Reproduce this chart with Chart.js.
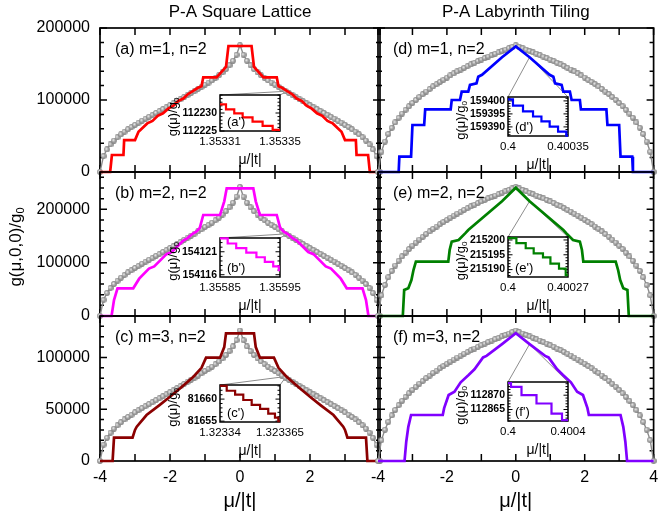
<!DOCTYPE html>
<html>
<head>
<meta charset="utf-8">
<title>g(μ,0,0)/g0</title>
<script src="https://cdn.jsdelivr.net/npm/chart.js@4.4.0/dist/chart.umd.min.js"></script>
<style>
  html, body { margin: 0; padding: 0; background: #fff; }
  #page { position: relative; width: 659px; height: 519px; overflow: hidden; }
  #page canvas { position: absolute; left: 0; top: 0; }
</style>
</head>
<body>
<div id="page"></div>
<script>
// ---- data -------------------------------------------------------------

const muGrid = [-4, -3.9, -3.8, -3.7, -3.6, -3.5, -3.4, -3.3, -3.2, -3.1, -3, -2.9, -2.8, -2.7, -2.6, -2.5, -2.4, -2.3, -2.2, -2.1,
  -2, -1.9, -1.8, -1.7, -1.6, -1.5, -1.4, -1.3, -1.2, -1.1, -1, -0.9, -0.8, -0.7, -0.6, -0.5, -0.4, -0.3, -0.2, -0.1,
  0, 0.1, 0.2, 0.3, 0.4, 0.5, 0.6, 0.7, 0.8, 0.9, 1, 1.1, 1.2, 1.3, 1.4, 1.5, 1.6, 1.7, 1.8, 1.9,
  2, 2.1, 2.2, 2.3, 2.4, 2.5, 2.6, 2.7, 2.8, 2.9, 3, 3.1, 3.2, 3.3, 3.4, 3.5, 3.6, 3.7, 3.8, 3.9, 4];

// grey bead curves (bulk reference), one per panel, on muGrid
const grayA = [0, 22000, 31300, 38200, 43600, 48200, 52300, 56000, 59300, 62500, 65500, 68500, 71300, 74100, 76700, 79400, 82000, 84700, 87300, 89900,
  92600, 95400, 98200, 101000, 103800, 106700, 109500, 112300, 115300, 118300, 121400, 124300, 127200, 130600, 134300, 138300, 142900, 148200, 154500, 162800,
  176000, 162800, 154500, 148200, 142900, 138300, 134300, 130600, 127200, 124300, 121400, 118300, 115300, 112300, 109500, 106700, 103800, 101000, 98200, 95400,
  92600, 89900, 87300, 84700, 82000, 79400, 76700, 74100, 71300, 68500, 65500, 62500, 59300, 56000, 52300, 48200, 43600, 38200, 31300, 22000, 0];
const grayB = [0, 30300, 43100, 52500, 60000, 66300, 71900, 77000, 81600, 85900, 90000, 94100, 98000, 101900, 105500, 109100, 112800, 116400, 120000, 123700,
  127300, 131200, 135000, 138900, 142800, 146700, 150500, 154400, 158500, 162600, 167000, 170900, 175000, 179600, 184600, 190200, 196500, 203800, 212500, 223900,
  242000, 223900, 212500, 203800, 196500, 190200, 184600, 179600, 175000, 170900, 167000, 162600, 158500, 154400, 150500, 146700, 142800, 138900, 135000, 131200,
  127300, 123700, 120000, 116400, 112800, 109100, 105500, 101900, 98000, 94100, 90000, 85900, 81600, 77000, 71900, 66300, 60000, 52500, 43100, 30300, 0];
const grayC = [0, 15800, 22400, 27300, 31200, 34500, 37400, 40100, 42500, 44700, 46900, 49000, 51000, 53000, 54900, 56800, 58700, 60600, 62500, 64400,
  66300, 68300, 70300, 72300, 74300, 76400, 78400, 80400, 82500, 84700, 86900, 89000, 91100, 93500, 96100, 99000, 102300, 106100, 110600, 116600,
  126000, 116600, 110600, 106100, 102300, 99000, 96100, 93500, 91100, 89000, 86900, 84700, 82500, 80400, 78400, 76400, 74300, 72300, 70300, 68300,
  66300, 64400, 62500, 60600, 58700, 56800, 54900, 53000, 51000, 49000, 46900, 44700, 42500, 40100, 37400, 34500, 31200, 27300, 22400, 15800, 0];
const grayD = [0, 28200, 42200, 52800, 61400, 68800, 75300, 81100, 86400, 91300, 95900, 100100, 104200, 108100, 111800, 115300, 118800, 122000, 125100, 128100,
  131100, 134100, 136900, 139600, 142200, 144700, 147100, 149400, 151700, 154000, 156100, 158200, 160300, 162300, 164200, 166100, 168100, 170000, 172000, 173900,
  176000, 173900, 172000, 170000, 168100, 166100, 164200, 162300, 160300, 158200, 156100, 154000, 151700, 149400, 147100, 144700, 142200, 139600, 136900, 134100,
  131100, 128100, 125100, 122000, 118800, 115300, 111800, 108100, 104200, 100100, 95900, 91300, 86400, 81100, 75300, 68800, 61400, 52800, 42200, 28200, 0];
const grayE = [0, 38700, 58100, 72600, 84500, 94600, 103600, 111600, 118800, 125600, 131900, 137700, 143300, 148600, 153700, 158500, 163400, 167700, 172100, 176200,
  180300, 184400, 188300, 191900, 195500, 198900, 202300, 205500, 208600, 211800, 214700, 217600, 220500, 223100, 225800, 228400, 231100, 233800, 236400, 239100,
  242000, 239100, 236400, 233800, 231100, 228400, 225800, 223100, 220500, 217600, 214700, 211800, 208600, 205500, 202300, 198900, 195500, 191900, 188300, 184400,
  180300, 176200, 172100, 167700, 163400, 158500, 153700, 148600, 143300, 137700, 131900, 125600, 118800, 111600, 103600, 94600, 84500, 72600, 58100, 38700, 0];
const grayF = [0, 20200, 30200, 37800, 44000, 49300, 53900, 58100, 61900, 65400, 68700, 71700, 74600, 77400, 80000, 82500, 85100, 87300, 89600, 91700,
  93900, 96000, 98000, 99900, 101800, 103600, 105300, 107000, 108600, 110300, 111800, 113300, 114800, 116200, 117600, 118900, 120300, 121700, 123100, 124500,
  126000, 124500, 123100, 121700, 120300, 118900, 117600, 116200, 114800, 113300, 111800, 110300, 108600, 107000, 105300, 103600, 101800, 99900, 98000, 96000,
  93900, 91700, 89600, 87300, 85100, 82500, 80000, 77400, 74600, 71700, 68700, 65400, 61900, 58100, 53900, 49300, 44000, 37800, 30200, 20200, 0];

// staircase curves (vertices) for the six panels
const stairAx = [-4, -3.71, -3.66, -3.33, -3.31, -3.0, -2.9, -2.65, -2.5, -2.35, -2.2, -2.05, -1.9, -1.77, -1.62, -1.5, -1.35, -1.2, -1.1, -1.05, -0.67, -0.4, -0.33,
  0.33, 0.4, 0.67, 1.05, 1.1, 1.2, 1.35, 1.5, 1.62, 1.77, 1.9, 2.05, 2.2, 2.35, 2.5, 2.65, 2.9, 3.0, 3.31, 3.33, 3.66, 3.71, 4];
const stairAy = [0, 0, 23600, 23600, 44400, 44400, 56000, 67500, 71000, 78000, 81500, 88000, 92000, 98500, 102000, 107700, 112230, 117000, 119000, 131500, 131500, 146000, 175000,
  175000, 146000, 131500, 131500, 119000, 117000, 112230, 107700, 102000, 98500, 92000, 88000, 81500, 78000, 71000, 67500, 56000, 44400, 44400, 23600, 23600, 0, 0];

const stairBx = [-4, -3.67, -3.6, -3.5, -3.05, -2.88, -2.6, -2.45, -2.1, -1.95, -1.62, -1.5, -1.356, -1.25, -1.15, -1.05, -0.57, -0.45, -0.38,
  0.38, 0.45, 0.57, 1.05, 1.15, 1.25, 1.356, 1.5, 1.62, 1.95, 2.1, 2.45, 2.6, 2.88, 3.05, 3.5, 3.6, 3.67, 4];
const stairBy = [0, 0, 30000, 51900, 51900, 70000, 89000, 93000, 116000, 120000, 141500, 146000, 154120, 158000, 165000, 189400, 189400, 215000, 239400,
  239400, 215000, 189400, 189400, 165000, 158000, 154120, 146000, 141500, 120000, 116000, 93000, 89000, 70000, 51900, 51900, 30000, 0, 0];

const stairCx = [-4, -3.64, -3.6, -3.07, -3.0, -2.95, -2.67, -2.3, -2.0, -1.7, -1.323, -1.1, -0.97, -0.57, -0.45, -0.4,
  0.4, 0.45, 0.57, 0.97, 1.1, 1.323, 1.7, 2.0, 2.3, 2.67, 2.95, 3.0, 3.07, 3.6, 3.64, 4];
const stairCy = [0, 0, 22500, 22500, 30000, 33100, 44400, 54000, 62100, 70500, 81660, 90000, 99800, 99800, 110000, 123300,
  123300, 110000, 99800, 99800, 90000, 81660, 70500, 62100, 54000, 44400, 33100, 30000, 22500, 22500, 0, 0];

const stairDx = [-4, -3.4, -3.38, -3.04, -3.0, -2.66, -2.63, -1.89, -1.86, -1.62, -1.57, -1.38, -1.33, -1.14, -1.09, -0.98, -0.4,
  0, 0.4, 0.98, 1.09, 1.14, 1.33, 1.38, 1.57, 1.62, 1.86, 1.89, 2.63, 2.66, 3.0, 3.04, 3.38, 3.4, 4];
const stairDy = [0, 0, 21300, 21300, 65300, 65300, 87000, 87000, 100000, 100000, 111500, 111500, 121000, 123000, 132400, 135000, 159400,
  174500, 159400, 135000, 132400, 123000, 121000, 111500, 111500, 100000, 100000, 87000, 87000, 65300, 65300, 21300, 21300, 0, 0];

const stairEx = [-4, -3.28, -3.24, -3.12, -3.03, -2.97, -2.9, -1.96, -1.92, -1.86, -1.66, -1.47, -1.38, -0.4,
  0, 0.4, 1.38, 1.47, 1.66, 1.86, 1.92, 1.96, 2.9, 2.97, 3.03, 3.12, 3.24, 3.28, 4];
const stairEy = [0, 0, 48750, 52000, 67500, 86250, 101800, 101800, 123750, 139400, 142500, 155000, 161250, 215200,
  240600, 215200, 161250, 155000, 142500, 139400, 123750, 101800, 101800, 86250, 67500, 52000, 48750, 0, 0];

const stairFx = [-4, -3.23, -3.18, -3.12, -3.04, -2.12, -2.08, -1.95, -1.78, -1.6, -1.37, -1.2, -0.95, -0.85, -0.4,
  0, 0.4, 0.85, 0.95, 1.2, 1.37, 1.6, 1.78, 1.95, 2.08, 2.12, 3.04, 3.12, 3.18, 3.23, 4];
const stairFy = [0, 0, 18600, 33000, 44400, 44400, 51000, 63700, 66900, 76000, 83000, 88500, 100000, 101500, 112870,
  123300, 112870, 101500, 100000, 88500, 83000, 76000, 66900, 63700, 51000, 44400, 44400, 33000, 18600, 0, 0];

// magnified pieces shown in the insets
const zoomAx = [1.35331, 1.353314, 1.3533195, 1.3533251, 1.3533317, 1.3533384, 1.3533451, 1.35335];
const zoomAy = [112232.4, 112231.0, 112229.9, 112228.8, 112227.6, 112226.4, 112225.3, 112225.3];
const zoomBx = [1.35585, 1.3558628, 1.355877, 1.3558938, 1.3559107, 1.3559247, 1.3559387, 1.355948, 1.35595];
const zoomBy = [154123.9, 154122.8, 154121.8, 154120.8, 154119.8, 154118.8, 154117.8, 154117.0, 154117.0];
const zoomCx = [1.32334, 1.3233428, 1.3233463, 1.3233497, 1.3233532, 1.3233567, 1.3233601, 1.3233629, 1.3233643, 1.323365];
const zoomCy = [81663.0, 81661.9, 81661.0, 81659.8, 81658.7, 81657.8, 81656.7, 81655.8, 81655.0, 81655.0];
const zoomDx = [0.4, 0.400029, 0.4000875, 0.400146, 0.400195, 0.400243, 0.400292, 0.40034, 0.40035];
const zoomDy = [159400.6, 159398.2, 159396.0, 159394.0, 159392.1, 159390.1, 159388.2, 159386.6, 159386.6];
const zoomEx = [0.4, 0.4000378, 0.4000797, 0.4001156, 0.4001574, 0.4001909, 0.4002295, 0.4002597, 0.40027];
const zoomEy = [215200.6, 215198.9, 215197.2, 215195.5, 215194.1, 215192.0, 215190.3, 215188.1, 215188.1];
const zoomFx = [0.4, 0.40002, 0.40009, 0.40019, 0.40029, 0.40036, 0.4004];
const zoomFy = [112874.2, 112872.9, 112870.0, 112867.1, 112863.6, 112861.3, 112861.3];

// tick values
const muTicks = [-4, -3, -2, -1, 0, 1, 2, 3, 4];
const rowYTicks = [[0, 100000, 200000], [0, 100000, 200000], [0, 50000, 100000]];
const zoomXTicks = [[1.35331, 1.35335], [1.35585, 1.35595], [1.32334, 1.323365], [0.4, 0.40035], [0.4, 0.40027], [0.4, 0.4004]];
const zoomYTicks = [[112225, 112230], [154116, 154121], [81655, 81660], [159390, 159395, 159400], [215190, 215195, 215200], [112865, 112870]];

const panelTags = ['(a) m=1, n=2', '(b) m=2, n=2', '(c) m=3, n=2', '(d) m=1, n=2', '(e) m=2, n=2', '(f) m=3, n=2'];
const insetTags = ["(a')", "(b')", "(c')", "(d')", "(e')", "(f')"];
const columnTitles = ['P-A Square Lattice', 'P-A Labyrinth Tiling'];
const xTitle = 'μ/|t|';

// ---- layout -------------------------------------------------------------

const W = 659, H = 519;
const FONT = '"Liberation Sans", Arial, Helvetica, sans-serif';
const cols = [{ left: 100, right: 380 }, { left: 378, right: 658 }];
const rows = [
  { top: 28, bottom: 172, max: 200000, minor: 20000 },
  { top: 172, bottom: 316, max: 270000, minor: 20000 },
  { top: 316, bottom: 461, max: 140000, minor: 10000 }
];
const insetRows = [{ top: 95, bottom: 131 }, { top: 238, bottom: 277 }, { top: 385, bottom: 422 }];
const insetRowsR = [{ top: 97, bottom: 136 }, { top: 237, bottom: 277 }, { top: 382, bottom: 421 }];
const insetRange = [[112225, 112235], [154115.5, 154124], [81654.8, 81663.2], [159386.5, 159401.5], [215187.5, 215201], [112861, 112874.6]];

const page = document.getElementById('page');

function addCanvas() {
  const c = document.createElement('canvas');
  c.width = W; c.height = H;
  c.style.width = W + 'px'; c.style.height = H + 'px';
  page.appendChild(c);
  return c;
}

function padFor(b) {
  return { left: b.left, top: b.top, right: W - b.right, bottom: H - b.bottom };
}

function points(xs, ys) {
  return xs.map((v, i) => ({ x: v, y: ys[i] }));
}

function fixedTicks(values) {
  return s => { s.ticks = values.map(v => ({ value: v })); };
}

function drawSubText(ctx, base, sub, size, cx, cy) {
  const subSize = Math.round(size * 0.65);
  ctx.font = size + 'px ' + FONT;
  const w1 = ctx.measureText(base).width;
  ctx.font = subSize + 'px ' + FONT;
  const w2 = ctx.measureText(sub).width;
  const x0 = cx - (w1 + w2) / 2;
  ctx.textAlign = 'left';
  ctx.textBaseline = 'middle';
  ctx.font = size + 'px ' + FONT;
  ctx.fillText(base, x0, cy);
  ctx.font = subSize + 'px ' + FONT;
  ctx.fillText(sub, x0 + w1, cy + size * 0.3);
}

// small shaded sphere used as the bead marker
const bead = document.createElement('canvas');
bead.width = bead.height = 6;
(function () {
  const b = bead.getContext('2d');
  const g = b.createRadialGradient(2.2, 2.2, 0.2, 3, 3, 3.2);
  g.addColorStop(0, '#efefef');
  g.addColorStop(0.45, '#a9a9a9');
  g.addColorStop(1, '#777');
  b.fillStyle = g;
  b.beginPath();
  b.arc(3, 3, 2.9, 0, Math.PI * 2);
  b.fill();
})();

// ---- plugins ------------------------------------------------------------

const panelDecor = {
  id: 'panelDecor',
  beforeDatasetsDraw(chart, args, o) {
    const { ctx, chartArea: a, scales: { x, y } } = chart;
    ctx.save();
    if (o.inset) {
      const b = o.inset.box;
      const fx = x.getPixelForValue(o.inset.xs[0]);
      const fy = y.getPixelForValue(o.inset.ys[0]);
      ctx.strokeStyle = '#8c8c8c';
      ctx.lineWidth = 1;
      ctx.beginPath();
      ctx.moveTo(b.left, b.top);
      ctx.lineTo(fx, fy);
      ctx.lineTo(b.right, b.top);
      ctx.stroke();
    }
    ctx.strokeStyle = '#000';
    ctx.lineWidth = 1.5;
    ctx.beginPath();
    x.ticks.forEach(t => {
      const px = x.getPixelForValue(t.value);
      ctx.moveTo(px, a.bottom); ctx.lineTo(px, a.bottom - 7);
      ctx.moveTo(px, a.top); ctx.lineTo(px, a.top + 7);
    });
    const majors = y.ticks.map(t => t.value);
    for (let v = y.min; v <= y.max; v += o.minor) {
      const py = y.getPixelForValue(v);
      const len = majors.includes(v) ? 7 : 4;
      ctx.moveTo(a.left, py); ctx.lineTo(a.left + len, py);
      ctx.moveTo(a.right, py); ctx.lineTo(a.right - len, py);
    }
    ctx.stroke();
    ctx.lineWidth = 1.7;
    ctx.strokeRect(a.left, a.top, a.right - a.left, a.bottom - a.top);
    ctx.restore();
  },
  afterDraw(chart, args, o) {
    const { ctx, chartArea: a, scales: { x, y } } = chart;
    ctx.save();
    ctx.fillStyle = '#000';
    ctx.font = '16px ' + FONT;
    ctx.textAlign = 'left';
    ctx.textBaseline = 'middle';
    ctx.fillText(o.tag, a.left + 15, a.top + 22);
    if (o.yLabels) {
      ctx.textAlign = 'right';
      y.ticks.forEach(t => ctx.fillText(String(t.value), a.left - 10, y.getPixelForValue(t.value)));
    }
    if (o.xLabels) {
      ctx.textAlign = 'center';
      x.ticks.forEach(t => {
        if (t.value % 2 === 0 && !o.skipX.includes(t.value)) {
          ctx.fillText(String(t.value), x.getPixelForValue(t.value), a.bottom + 17);
        }
      });
      ctx.font = '20px ' + FONT;
      ctx.fillText(xTitle, (a.left + a.right) / 2, a.bottom + 40);
    }
    if (o.title) {
      ctx.textAlign = 'center';
      ctx.font = '17px ' + FONT;
      ctx.fillText(o.title, (a.left + a.right) / 2, 12);
    }
    if (o.yTitle) {
      ctx.translate(16, 247);
      ctx.rotate(-Math.PI / 2);
      drawSubText(ctx, 'g(μ,0,0)/g', '0', 17, 0, 0);
    }
    ctx.restore();
  }
};

const insetDecor = {
  id: 'insetDecor',
  beforeDraw(chart) {
    const { ctx, chartArea: a } = chart;
    ctx.save();
    ctx.fillStyle = '#fff';
    ctx.fillRect(a.left, a.top, a.right - a.left, a.bottom - a.top);
    ctx.restore();
  },
  beforeDatasetsDraw(chart) {
    const { ctx, chartArea: a, scales: { y } } = chart;
    ctx.save();
    ctx.strokeStyle = '#000';
    ctx.lineWidth = 1;
    ctx.beginPath();
    const majors = y.ticks.map(t => t.value);
    for (let v = Math.ceil(y.min); v <= y.max; v += 1) {
      const py = y.getPixelForValue(v);
      const len = majors.includes(v) ? 4.5 : 2.5;
      ctx.moveTo(a.left, py); ctx.lineTo(a.left + len, py);
      ctx.moveTo(a.right, py); ctx.lineTo(a.right - len, py);
    }
    ctx.stroke();
    ctx.lineWidth = 1.5;
    ctx.strokeRect(a.left, a.top, a.right - a.left, a.bottom - a.top);
    ctx.restore();
  },
  afterDraw(chart, args, o) {
    const { ctx, chartArea: a, scales: { x, y } } = chart;
    ctx.save();
    ctx.fillStyle = '#000';
    ctx.textBaseline = 'middle';
    ctx.textAlign = 'right';
    ctx.font = 'bold 10.5px ' + FONT;
    y.ticks.forEach(t => ctx.fillText(String(t.value), a.left - 3, y.getPixelForValue(t.value)));
    ctx.textAlign = 'center';
    ctx.font = '11.5px ' + FONT;
    x.ticks.forEach(t => ctx.fillText(String(t.value), x.getPixelForValue(t.value), a.bottom + 11));
    ctx.font = '14px ' + FONT;
    ctx.fillText(xTitle, (a.left + a.right) / 2, a.bottom + 29);
    ctx.textAlign = 'left';
    ctx.font = '13px ' + FONT;
    ctx.fillText(o.tag, a.left + 7, a.bottom - 9);
    ctx.translate(a.left - 47, (a.top + a.bottom) / 2 + 4);
    ctx.rotate(-Math.PI / 2);
    drawSubText(ctx, 'g(μ)/g', '0', 13, 0, 0);
    ctx.restore();
  }
};

// ---- build --------------------------------------------------------------

const gray = [grayA, grayB, grayC, grayD, grayE, grayF];
const stairs = [[stairAx, stairAy], [stairBx, stairBy], [stairCx, stairCy], [stairDx, stairDy], [stairEx, stairEy], [stairFx, stairFy]];
const zooms = [[zoomAx, zoomAy], [zoomBx, zoomBy], [zoomCx, zoomCy], [zoomDx, zoomDy], [zoomEx, zoomEy], [zoomFx, zoomFy]];
const colors = ['#ff0000', '#ff00ff', '#8b0000', '#0000ff', '#008000', '#8000ff'];

const insetBoxes = [];
for (let p = 0; p < 6; p++) {
  const c = p < 3 ? 0 : 1, r = p % 3;
  const rr = c === 0 ? insetRows[r] : insetRowsR[r];
  insetBoxes.push(c === 0 ? { left: 220, right: 280, top: rr.top, bottom: rr.bottom }
                          : { left: 508, right: 568, top: rr.top, bottom: rr.bottom });
}

function mainPanel(p) {
  const c = p < 3 ? 0 : 1, r = p % 3;
  const box = { left: cols[c].left, right: cols[c].right, top: rows[r].top, bottom: rows[r].bottom };
  return new Chart(addCanvas(), {
    type: 'line',
    data: {
      datasets: [
        {
          data: points(stairs[p][0], stairs[p][1]),
          borderColor: colors[p], borderWidth: 2.7, pointRadius: 0,
          tension: 0, clip: false, borderJoinStyle: 'miter'
        },
        {
          data: points(muGrid, gray[p]),
          borderColor: '#8c8c8c', borderWidth: 1.4,
          pointStyle: bead, pointRadius: 3, tension: 0, clip: false
        }
      ]
    },
    options: {
      responsive: false, animation: false, devicePixelRatio: 1, events: [],
      layout: { padding: padFor(box) },
      plugins: {
        legend: { display: false }, tooltip: { enabled: false },
        panelDecor: {
          tag: panelTags[p], minor: rows[r].minor,
          yLabels: c === 0, xLabels: r === 2, skipX: c === 0 ? [4] : [],
          title: r === 0 ? columnTitles[c] : null, yTitle: p === 0,
          inset: { box: insetBoxes[p], xs: zooms[p][0], ys: zooms[p][1] }
        }
      },
      scales: {
        x: { type: 'linear', min: -4, max: 4, display: false, afterBuildTicks: fixedTicks(muTicks) },
        y: { type: 'linear', min: 0, max: rows[r].max, display: false, afterBuildTicks: fixedTicks(rowYTicks[r]) }
      }
    },
    plugins: [panelDecor]
  });
}

function insetPanel(p) {
  const xt = zoomXTicks[p];
  return new Chart(addCanvas(), {
    type: 'line',
    data: {
      datasets: [{
        data: points(zooms[p][0], zooms[p][1]),
        stepped: true, borderColor: colors[p], borderWidth: 2.2,
        pointRadius: 0, clip: 2
      }]
    },
    options: {
      responsive: false, animation: false, devicePixelRatio: 1, events: [],
      layout: { padding: padFor(insetBoxes[p]) },
      plugins: { legend: { display: false }, tooltip: { enabled: false }, insetDecor: { tag: insetTags[p] } },
      scales: {
        x: { type: 'linear', min: xt[0], max: xt[xt.length - 1], display: false, afterBuildTicks: fixedTicks(xt) },
        y: { type: 'linear', min: insetRange[p][0], max: insetRange[p][1], display: false, afterBuildTicks: fixedTicks(zoomYTicks[p]) }
      }
    },
    plugins: [insetDecor]
  });
}

for (let p = 0; p < 6; p++) mainPanel(p);
for (let p = 0; p < 6; p++) insetPanel(p);
</script>
</body>
</html>
